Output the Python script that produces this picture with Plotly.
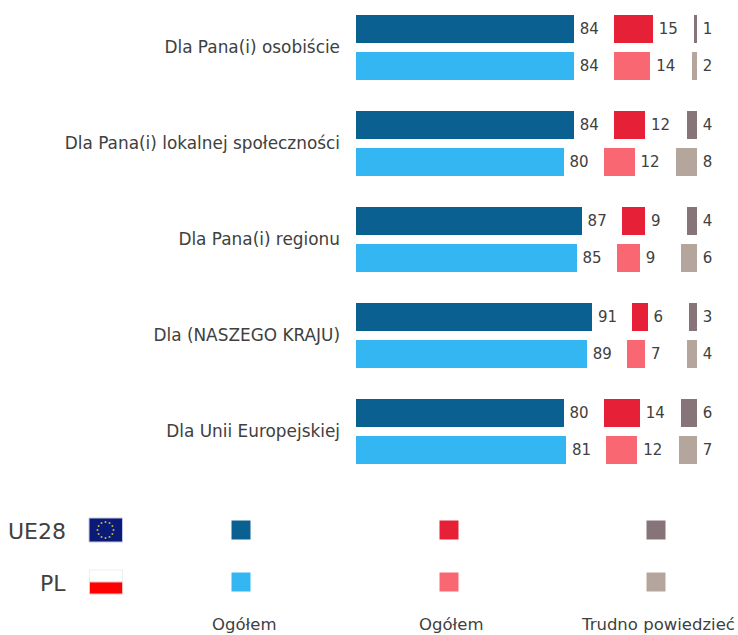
import plotly.graph_objects as go

categories = ["Dla Pana(i) osobiście", "Dla Pana(i) lokalnej społeczności", "Dla Pana(i) regionu",
              "Dla (NASZEGO KRAJU)", "Dla Unii Europejskiej"]
ue_pos = [84, 84, 87, 91, 80]
pl_pos = [84, 80, 85, 89, 81]
ue_neg = [15, 12, 9, 6, 14]
pl_neg = [14, 12, 9, 7, 12]
ue_dk = [1, 4, 4, 3, 6]
pl_dk = [2, 8, 6, 4, 7]
column_labels = ["Ogółem", "Ogółem", "Trudno powiedzieć"]
row_labels = ["UE28", "PL"]

C_UE = ["#0a6191", "#e62137", "#867478"]
C_PL = ["#33b6f1", "#f96773", "#b4a69d"]
TXT = "#404040"
FONT = "DejaVu Sans"
W, H = 738, 635
PX = 2.595          # px per percentage point
ROW = 36.5          # px between rows
GROUP = 96 / ROW
GAP = 15.4
EDGE = 131.4
LBL = 18
PAD = 1.1

y, pos, neg, sp, dk, colors = [], [], [], [], [], []
for i in range(len(categories)):
    for r, (p, n, d) in enumerate([(ue_pos[i], ue_neg[i], ue_dk[i]), (pl_pos[i], pl_neg[i], pl_dk[i])]):
        y.append(i * GROUP + r)
        pos.append(p); neg.append(n); dk.append(d)
        sp.append(EDGE - p - GAP - n - d)
        colors.append(r)

def cols(k):
    return [(C_UE if c == 0 else C_PL)[k] for c in colors]

fig = go.Figure()
common = dict(orientation="h", y=y, width=28 / ROW, hoverinfo="skip", showlegend=False,
              xaxis="x", yaxis="y")
txt = dict(textposition="inside", insidetextanchor="start", textangle=0,
           textfont=dict(family=FONT, size=15, color=TXT), constraintext="none")
blank = dict(color="#ffffff", line=dict(width=0))

def spacer(widths, values):
    fig.add_bar(x=[PAD] * len(y), marker=blank, **common)
    fig.add_bar(x=[w - PAD for w in widths], text=[str(v) for v in values], marker=blank, **common, **txt)

fig.add_bar(x=pos, marker=dict(color=cols(0), line=dict(width=0)), **common)
spacer([GAP] * len(y), pos)
fig.add_bar(x=neg, marker=dict(color=cols(1), line=dict(width=0)), **common)
spacer(sp, neg)
fig.add_bar(x=dk, marker=dict(color=cols(2), line=dict(width=0)), **common)
spacer([LBL] * len(y), dk)

# legend block, drawn on a pixel-scaled overlay axis
col_x = [241, 449, 656]
col_label_x = [243.5, 450.5, 658]
row_y = [530, 582]
for cx, cu, cp in zip(col_x, C_UE, C_PL):
    fig.add_scatter(x=[cx, cx], y=row_y, mode="markers", xaxis="x2", yaxis="y2", showlegend=False,
                    hoverinfo="skip", marker=dict(symbol="square", size=19, color=[cu, cp]))
ring_dx = [0, 4, 6.9, 8, 6.9, 4, 0, -4, -6.9, -8, -6.9, -4]
ring_dy = [-8, -6.9, -4, 0, 4, 6.9, 8, 6.9, 4, 0, -4, -6.9]
fig.add_scatter(x=[105.5 + d for d in ring_dx], y=[530 + d for d in ring_dy], mode="markers",
                xaxis="x2", yaxis="y2", showlegend=False, hoverinfo="skip",
                marker=dict(symbol="circle", size=2, color="#c9b52e"))

flag = dict(xref="x2", yref="y2", layer="below")
shapes = [
    dict(type="rect", x0=89, x1=122.5, y0=518, y1=542, fillcolor="#0a1a78",
         line=dict(color="#c4c8e4", width=1), **flag),
    dict(type="rect", x0=89.5, x1=122.5, y0=570, y1=582, fillcolor="#ffffff",
         line=dict(color="#eeeeee", width=1), **flag),
    dict(type="rect", x0=89.5, x1=122.5, y0=582, y1=594, fillcolor="#ff0000",
         line=dict(color="#f4c0c0", width=1), **flag),
]
ann = []
for lx, t in zip(col_label_x, column_labels):
    ann.append(dict(x=lx, y=624, text=t, xref="x2", yref="y2", showarrow=False, xanchor="center",
                    yanchor="middle", font=dict(family=FONT, size=16.5, color=TXT)))
for ry, t in zip(row_y, row_labels):
    ann.append(dict(x=67.5, y=ry + 1, text=t, xref="x2", yref="y2", showarrow=False, xanchor="right",
                    yanchor="middle", font=dict(family=FONT, size=22, color=TXT)))

fig.update_layout(
    width=W, height=H, autosize=False, margin=dict(l=0, r=0, t=0, b=0),
    barmode="stack", plot_bgcolor="rgba(0,0,0,0)", paper_bgcolor="white",
    shapes=shapes, annotations=ann,
    xaxis=dict(domain=[356 / W, 1], range=[0, (W - 356) / PX], visible=False, fixedrange=True),
    yaxis=dict(domain=[1 - 480 / H, 1], range=[(480 - 29) / ROW, -29 / ROW], anchor="x",
               tickvals=[i * GROUP + 0.5 for i in range(len(categories))], ticktext=categories,
               showgrid=False, zeroline=False, showline=False, ticks="", ticklabelstandoff=15,
               tickfont=dict(family=FONT, size=16.9, color=TXT), fixedrange=True),
    xaxis2=dict(domain=[0, 1], range=[0, W], visible=False, anchor="y2", fixedrange=True),
    yaxis2=dict(domain=[0, 1], range=[H, 0], visible=False, anchor="x2", fixedrange=True),
)
fig.write_html("out.html", config=dict(displayModeBar=False),
               post_script="document.body.style.margin='0';document.body.style.overflow='hidden';")
